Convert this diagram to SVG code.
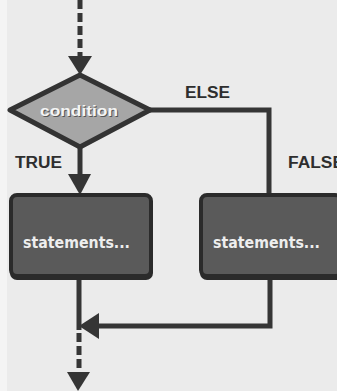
<svg xmlns="http://www.w3.org/2000/svg" width="337" height="391" viewBox="0 0 337 391">
  <style>
    .line { fill: none; stroke: #353535; stroke-width: 5; }
    .dash { fill: none; stroke: #353535; stroke-width: 5; stroke-dasharray: 9 4; }
    .head { fill: #353535; }
    .label { font-family: "Liberation Sans", Arial, sans-serif; font-weight: bold; font-size: 16px; fill: #2e2e2e; }
    .boxtext { font-family: "DejaVu Sans", "Liberation Sans", sans-serif; font-weight: bold; font-size: 15px; fill: #eeeeee; }
    .box { fill: #5a5a5a; stroke: #2b2b2b; stroke-width: 4; }
    .boxshadow { fill: #2b2b2b; }
  </style>

  <rect x="0" y="0" width="337" height="391" fill="#ebebeb"/>
  <rect x="0" y="0" width="7" height="391" fill="#f4f4f4"/>

  <!-- connectors -->
  <g id="connectors">
    <!-- entry -->
    <line class="dash" x1="80" y1="0" x2="80" y2="58"/>
    <polygon class="head" points="68,56 92,56 80,75"/>
    <!-- TRUE branch -->
    <line class="line" x1="80" y1="146" x2="80" y2="176"/>
    <polygon class="head" points="68,174 91,174 80,195"/>
    <!-- ELSE branch -->
    <polyline class="line" points="148,110 269,110 269,195"/>
    <!-- merge -->
    <line class="line" x1="79" y1="278" x2="79" y2="330"/>
    <polyline class="line" points="270,278 270,326 96,326"/>
    <polygon class="head" points="79,326 99,313 99,339"/>
    <!-- exit -->
    <line class="dash" x1="79" y1="333" x2="79" y2="374"/>
    <polygon class="head" points="67,372 90,372 78,391"/>
  </g>

  <g id="condition">
    <polygon points="80,75 150,110 80,147 10,110" fill="#a6a6a6" stroke="#333333" stroke-width="5" stroke-linejoin="round"/>
    <text x="79" y="116" text-anchor="middle" font-family="Liberation Sans, Arial, sans-serif" font-weight="bold" font-size="15" fill="#555555" textLength="78" lengthAdjust="spacingAndGlyphs" transform="translate(1,1)">condition</text>
    <text x="79" y="116" text-anchor="middle" font-family="Liberation Sans, Arial, sans-serif" font-weight="bold" font-size="15" fill="#f4f4f4" textLength="78" lengthAdjust="spacingAndGlyphs">condition</text>
  </g>

  <g id="label-else">
    <text class="label" x="185" y="98" textLength="45" lengthAdjust="spacingAndGlyphs">ELSE</text>
  </g>
  <g id="label-true">
    <text class="label" x="15" y="168" textLength="47" lengthAdjust="spacingAndGlyphs">TRUE</text>
  </g>
  <g id="label-false">
    <text class="label" x="288" y="168" textLength="56" lengthAdjust="spacingAndGlyphs">FALSE</text>
  </g>

  <g id="statements-true">
    <rect class="boxshadow" x="10" y="198" width="143" height="82" rx="7"/>
    <rect class="box" x="11" y="195" width="140" height="81" rx="6"/>
    <text class="boxtext" x="23" y="248" textLength="107" lengthAdjust="spacingAndGlyphs">statements...</text>
  </g>

  <g id="statements-false">
    <rect class="boxshadow" x="200" y="198" width="143" height="82" rx="7"/>
    <rect class="box" x="201" y="195" width="140" height="81" rx="6"/>
    <text class="boxtext" x="213" y="248" textLength="107" lengthAdjust="spacingAndGlyphs">statements...</text>
  </g>
</svg>
